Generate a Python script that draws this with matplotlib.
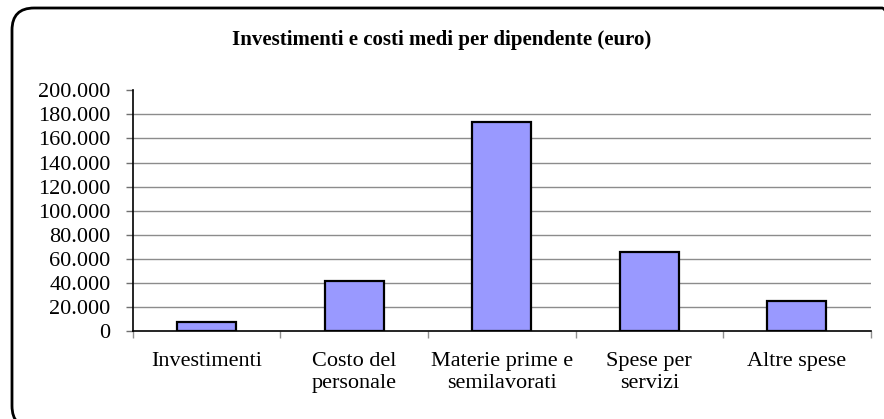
import matplotlib.pyplot as plt
from matplotlib.patches import FancyBboxPatch
from matplotlib.ticker import FuncFormatter

# Dati (euro per dipendente)
categories = ["Investimenti", "Costo del\npersonale", "Materie prime e\nsemilavorati",
              "Spese per\nservizi", "Altre spese"]
values = [7200, 41500, 173800, 65400, 24600]
yticks = [0, 20000, 40000, 60000, 80000, 100000, 120000, 140000, 160000, 180000, 200000]

plt.rcParams['font.family'] = ['Liberation Serif', 'DejaVu Serif']

fig = plt.figure(figsize=(8.84, 4.19), dpi=100)

# cornice arrotondata (esce dal bordo destro e inferiore)
frame = FancyBboxPatch((12 / 884, 1 - 428 / 419), 892 / 884, 420 / 419,
                       boxstyle="round,pad=0,rounding_size=0.025",
                       transform=fig.transFigure, fill=False, lw=2, ec="black",
                       mutation_aspect=884 / 419)
fig.patches.append(frame)

ax = fig.add_axes([132.7 / 884, 1 - 331 / 419, (870.7 - 132.7) / 884, (331 - 90.3) / 419])

x = range(len(categories))
ax.bar(x, values, width=0.4, color="#9999FF", edgecolor="black", linewidth=1.6, zorder=3)

# griglia orizzontale (non sulla linea superiore)
ax.hlines(yticks[1:-1], -0.5, len(categories) - 0.5, colors="#8c8c8c", linewidth=1, zorder=1)

ax.set_xlim(-0.5, len(categories) - 0.5)
ax.set_ylim(0, 200000)
ax.set_yticks(yticks)
ax.yaxis.set_major_formatter(FuncFormatter(lambda v, p: f"{int(v):,}".replace(",", ".")))
ax.tick_params(axis="y", direction="out", length=5, width=1, color="#707070",
               labelsize=16, pad=11)

ax.set_xticks(list(x))
ax.set_xticklabels(categories, linespacing=1.2)
ax.set_xticks([i - 0.5 for i in range(len(categories) + 1)], minor=True)
ax.tick_params(axis="x", which="major", length=0, labelsize=16, pad=15)
ax.tick_params(axis="x", which="minor", direction="out", length=5, width=1, color="#909090")

for s in ["top", "right"]:
    ax.spines[s].set_visible(False)
ax.spines["left"].set_linewidth(1.2)
ax.spines["bottom"].set_linewidth(1.2)
ax.set_facecolor("none")

fig.text(442 / 884, 1 - 45 / 419, "Investimenti e costi medi per dipendente (euro)",
         ha="center", va="baseline", fontsize=15, fontweight="bold")

fig.savefig("out.png", dpi=100)
